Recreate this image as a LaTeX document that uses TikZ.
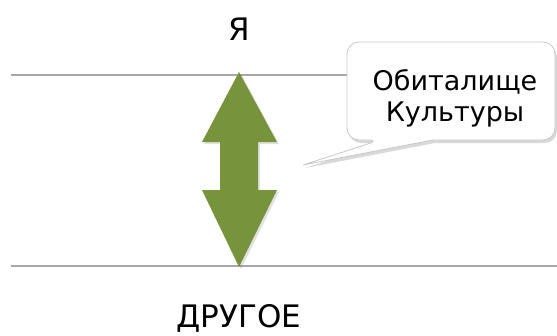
\documentclass[tikz,border=0pt]{standalone}
\usepackage{fontspec}
\setmainfont{DejaVu Sans}
\usetikzlibrary{shadows}
\definecolor{olive}{HTML}{77933C}
\definecolor{rule}{HTML}{A6A6A6}
\definecolor{edge}{HTML}{C8C8C8}
\tikzset{
  level/.style={draw=rule, line width=1.4pt},
  bigarrow/.style={fill=olive, draw=none,
    drop shadow={shadow xshift=2pt, shadow yshift=-2pt, opacity=0.2, fill=black!60}},
  bubble/.style={fill=white, draw=edge, line width=0.8pt,
    drop shadow={shadow xshift=2pt, shadow yshift=-3pt, opacity=0.3, fill=black!50}},
  caption/.style={font=\fontsize{31}{34}\selectfont, inner sep=0pt},
  bubbletext/.style={font=\fontsize{27}{31}\selectfont, align=center, inner sep=0pt}
}
\begin{document}
\begin{tikzpicture}[x=1pt,y=-1pt]
  \useasboundingbox (0,0) rectangle (557,335);
  % horizontal levels
  \coordinate (topL) at (11,75);
  \coordinate (topR) at (350,75);
  \coordinate (botL) at (11,266);
  \coordinate (botR) at (557,266);
  \draw[level] (topL) -- (topR);
  \draw[level] (botL) -- (botR);
  % double-headed arrow between the levels
  \path[bigarrow] (239,72) -- (277,142) -- (258,142) -- (258,190) -- (277,190)
    -- (239,267) -- (202,190) -- (220,190) -- (220,142) -- (202,142) -- cycle;
  % speech bubble
  \path[bubble] (433,140) [rounded corners=12pt] -- (555,140) -- (555,42)
    -- (347,42) -- (347,140) -- (380,140) [sharp corners] -- (303,165) -- cycle;
  \node[bubbletext] (habitat) at (455,98) {Обиталище\\Культуры};
  % labels
  \node[caption] (self) at (239,29) {Я};
  \node[caption] (other) at (239,318) {ДРУГОЕ};
\end{tikzpicture}
\end{document}
